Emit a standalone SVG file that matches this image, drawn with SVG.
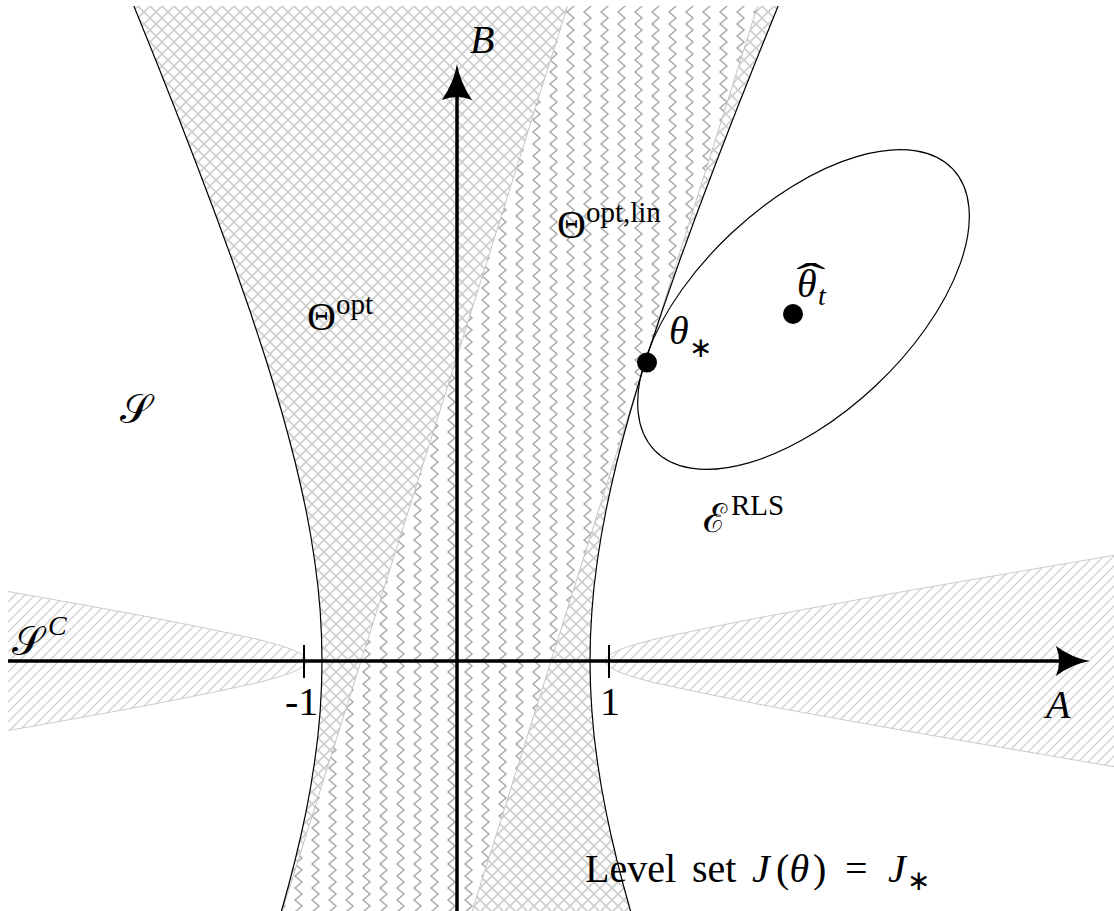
<svg xmlns="http://www.w3.org/2000/svg" width="1114" height="911" viewBox="0 0 1114 911">
<style>
text{fill:#000}
.bnd{fill:none;stroke:#000;stroke-width:1.2}
.gl{fill:none;stroke:#c4c4c4;stroke-width:1}
.hat{fill:url(#nel);stroke:#cccccc;stroke-width:1}
.ax{stroke:#000;stroke-width:3.5;fill:none}
.tick{stroke:#000;stroke-width:2}
</style>
<defs>
<clipPath id="frame"><rect x="8" y="6" width="1120" height="920"/></clipPath>
<clipPath id="hypclip"><path d="M127.8,-9 L156.1,61 L175.9,111 L195.3,161 L214.2,211 L232.5,261 L250,311 L266.4,361 L274.1,386 L281.5,411 L288.4,436 L294.9,461 L300.8,486 L306.2,511 L310.8,536 L314.7,561 L317.9,586 L320.2,611 L321.5,636 L322,661 L321.5,686 L320.2,711 L317.9,736 L314.7,761 L310.8,786 L306.2,811 L300.8,836 L294.9,861 L288.4,886 L281.5,911 L274.1,936 L637.9,936 L630.5,911 L623.6,886 L617.1,861 L611.2,836 L605.9,811 L601.2,786 L597.3,761 L594.1,736 L591.9,711 L590.5,686 L590,661 L590.5,636 L591.9,611 L594.1,586 L597.3,561 L601.2,536 L605.9,511 L611.2,486 L617.1,461 L623.6,436 L630.5,411 L637.9,386 L645.6,361 L662.1,311 L679.5,261 L697.8,211 L716.7,161 L736.1,111 L755.9,61 L784.2,-9 Z"/></clipPath>
<pattern id="xh" patternUnits="userSpaceOnUse" width="12" height="12">
<path d="M-1,-1 L13,13 M13,-1 L-1,13" stroke="#d0d0d0" stroke-width="1.9" fill="none"/>
</pattern>
<pattern id="nel" patternUnits="userSpaceOnUse" width="10" height="10">
<path d="M-1,11 L11,-1 M-2,2 L2,-2 M8,12 L12,8" stroke="#d2d2d2" stroke-width="1.4" fill="none"/>
</pattern>
<pattern id="zz" patternUnits="userSpaceOnUse" x="2" width="17" height="12">
<path d="M11,-6 L4,0 L11,6 L4,12 L11,18" stroke="#ababab" stroke-width="1.5" fill="none"/>
</pattern>
</defs>
<rect width="1114" height="911" fill="#fff"/>
<g clip-path="url(#frame)">
<g id="theta-opt">
<path fill="url(#xh)" d="M127.8,-9 L156.1,61 L175.9,111 L195.3,161 L214.2,211 L232.5,261 L250,311 L266.4,361 L274.1,386 L281.5,411 L288.4,436 L294.9,461 L300.8,486 L306.2,511 L310.8,536 L314.7,561 L317.9,586 L320.2,611 L321.5,636 L322,661 L321.5,686 L320.2,711 L317.9,736 L314.7,761 L310.8,786 L306.2,811 L300.8,836 L294.9,861 L288.4,886 L281.5,911 L274.1,936 L637.9,936 L630.5,911 L623.6,886 L617.1,861 L611.2,836 L605.9,811 L601.2,786 L597.3,761 L594.1,736 L591.9,711 L590.5,686 L590,661 L590.5,636 L591.9,611 L594.1,586 L597.3,561 L601.2,536 L605.9,511 L611.2,486 L617.1,461 L623.6,436 L630.5,411 L637.9,386 L645.6,361 L662.1,311 L679.5,261 L697.8,211 L716.7,161 L736.1,111 L755.9,61 L784.2,-9 Z"/>
</g>
<g id="theta-opt-lin" clip-path="url(#hypclip)">
<path fill="#fff" d="M572.3,-9 L762.3,-9 L464.3,936 L274.3,936 Z"/>
<path fill="url(#zz)" d="M572.3,-9 L762.3,-9 L464.3,936 L274.3,936 Z"/>
<path class="gl" d="M572.3,-9 L274.3,936 M762.3,-9 L464.3,936"/>
</g>
<g id="s-complement">
<path class="hat" d="M1136,551.6 L1076,561.8 L1016,572.1 L956,582.4 L906,591.1 L856,600 L806,609 L756,618.3 L706,628.25 L681,633.6 L654,639.4 L633,645.1 L623,648.4 L613,652.8 L608,656 L606,658.1 L605,661 L606,663.9 L608,666 L613,669.2 L623,673.6 L633,676.9 L654,682.6 L681,688.4 L706,693.75 L756,703.7 L806,713 L856,722 L906,730.9 L956,739.6 L1016,749.9 L1076,760.2 L1136,770.4 Z"/>
<path class="hat" d="M-44,582.4 L6,591.1 L56,600 L106,609 L156,618.3 L206,628.25 L231,633.6 L258,639.4 L279,645.1 L289,648.4 L299,652.8 L304,656 L306,658.1 L307,661 L306,663.9 L304,666 L299,669.2 L289,673.6 L279,676.9 L258,682.6 L231,688.4 L206,693.75 L156,703.7 L106,713 L56,722 L6,730.9 L-44,739.6 Z"/>
</g>
<g id="level-set">
<path class="bnd" d="M127.8,-9 L156.1,61 L175.9,111 L195.3,161 L214.2,211 L232.5,261 L250,311 L266.4,361 L274.1,386 L281.5,411 L288.4,436 L294.9,461 L300.8,486 L306.2,511 L310.8,536 L314.7,561 L317.9,586 L320.2,611 L321.5,636 L322,661 L321.5,686 L320.2,711 L317.9,736 L314.7,761 L310.8,786 L306.2,811 L300.8,836 L294.9,861 L288.4,886 L281.5,911 L274.1,936"/>
<path class="bnd" d="M637.9,936 L630.5,911 L623.6,886 L617.1,861 L611.2,836 L605.9,811 L601.2,786 L597.3,761 L594.1,736 L591.9,711 L590.5,686 L590,661 L590.5,636 L591.9,611 L594.1,586 L597.3,561 L601.2,536 L605.9,511 L611.2,486 L617.1,461 L623.6,436 L630.5,411 L637.9,386 L645.6,361 L662.1,311 L679.5,261 L697.8,211 L716.7,161 L736.1,111 L755.9,61 L784.2,-9"/>
</g>
<g id="ellipse-rls">
<ellipse class="bnd" cx="803.5" cy="309.5" rx="205" ry="105" transform="rotate(-43.2 803.5 309.5)"/>
</g>
<g id="connectors">
<line class="ax" x1="8" y1="661" x2="1062" y2="661"/>
<path d="M1090,661 Q1072,664 1056,676 Q1062,661 1056,646 Q1072,658 1090,661 Z" fill="#000"/>
<line class="ax" x1="457" y1="920" x2="457" y2="95"/>
<path d="M457,64 Q460,82 472,100 Q457,94 442,100 Q454,82 457,64 Z" fill="#000"/>
<line class="tick" x1="304" y1="645" x2="304" y2="678"/>
<line class="tick" x1="609" y1="645" x2="609" y2="678"/>
</g>
</g>
<g id="theta-star">
<circle cx="647" cy="362.5" r="10" fill="#000"/>
<text font-family="Liberation Serif" font-size="40" font-style="italic" x="669" y="344">θ</text>
<text font-family="Liberation Serif" font-size="28" x="689" y="357">∗</text>
</g>
<g id="theta-hat">
<circle cx="793" cy="314" r="10" fill="#000"/>
<text font-family="Liberation Serif" font-size="40" font-style="italic" x="797" y="297">θ</text>
<text font-family="Liberation Serif" font-size="28" font-style="italic" x="818" y="305">t</text>
<text font-family="Liberation Serif" font-size="40" text-anchor="middle" transform="translate(811,291) scale(2.2,1)">ˆ</text>
</g>
<g id="labels">
<text font-family="Liberation Serif" font-size="40" font-style="italic" x="470" y="53">B</text>
<text font-family="Liberation Serif" font-size="40" font-style="italic" x="1046" y="718">A</text>
<text font-family="Liberation Serif" font-size="40" x="285" y="715">-1</text>
<text font-family="Liberation Serif" font-size="40" x="600" y="715">1</text>
<text font-family="Liberation Serif" font-size="40" x="12" y="655">𝒮</text>
<text font-family="Liberation Serif" font-size="28" font-style="italic" x="48" y="635">C</text>
<text font-family="Liberation Serif" font-size="40" x="120" y="423">𝒮</text>
<text font-family="Liberation Serif" font-size="40" x="307" y="330">Θ<tspan font-size="29" dy="-16">opt</tspan></text>
<text font-family="Liberation Serif" font-size="40" x="557" y="238">Θ<tspan font-size="29" dy="-16">opt,lin</tspan></text>
<text font-family="Liberation Serif" font-size="40" x="703" y="532">ℰ</text>
<text font-family="Liberation Serif" font-size="29" x="731" y="515">RLS</text>
<text font-family="Liberation Serif" font-size="40" y="882"><tspan x="585">Level</tspan><tspan x="692">set</tspan><tspan x="752" font-style="italic">J</tspan><tspan x="776">(</tspan><tspan x="789.5" font-style="italic">θ</tspan><tspan x="813">)</tspan><tspan x="845">=</tspan><tspan x="888" font-style="italic">J</tspan><tspan x="907" dy="8" font-size="28">∗</tspan></text>
</g>
</svg>
